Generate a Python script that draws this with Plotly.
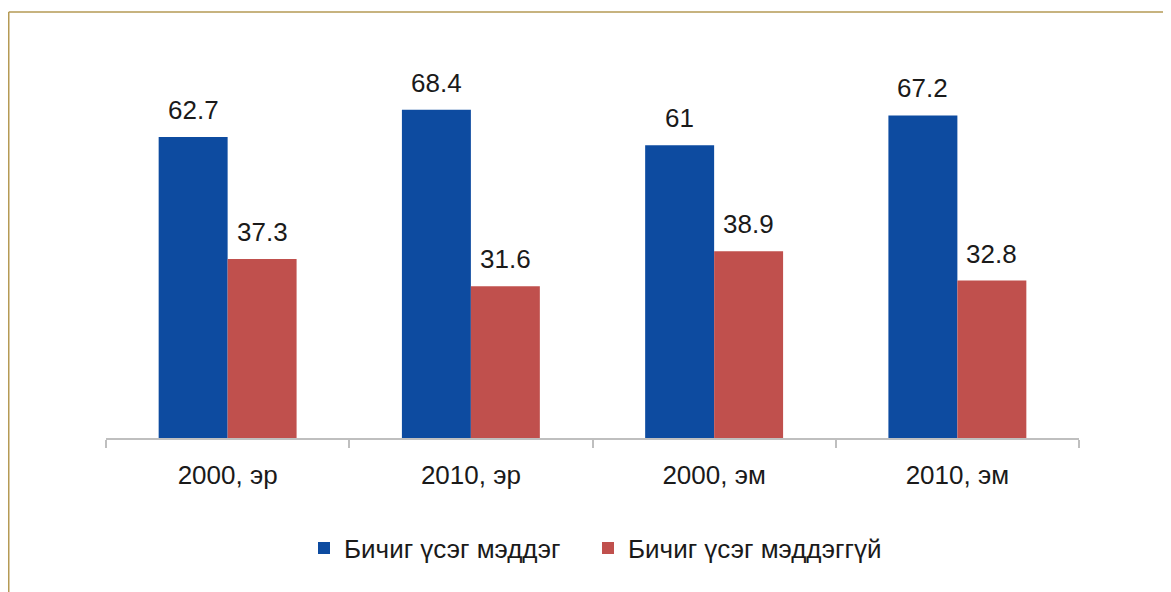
import plotly.graph_objects as go

categories = ["2000, эр", "2010, эр", "2000, эм", "2010, эм"]
literate = [62.7, 68.4, 61, 67.2]
illiterate = [37.3, 31.6, 38.9, 32.8]
series_names = ["Бичиг үсэг мэддэг", "Бичиг үсэг мэддэггүй"]

# page body adds an 8px offset; figure is sized/positioned to compensate
OFF = 8
W, H = 1171 - OFF, 592 - OFF
L, R, T, B = 98, 92, 46, 154
pw, ph = W - L - R, H - T - B

def px_x(x):
    return (x - OFF - L) / pw

def px_y(y):
    return (H - B - (y - OFF)) / ph

font = "Liberation Sans, Arial, sans-serif"
txt = "#1a1a1a"
colors = ["#0D4BA0", "#C0504D"]

fig = go.Figure()
fig.add_bar(x=categories, y=literate, name=series_names[0], marker_color=colors[0],
            marker_line_width=0, legend="legend")
fig.add_bar(x=categories, y=illiterate, name=series_names[1], marker_color=colors[1],
            marker_line_width=0, legend="legend2")

annotations = []
bar_half = 34.5
for vals, shift in ((literate, -bar_half), (illiterate, bar_half)):
    for c, v in zip(categories, vals):
        annotations.append(dict(x=c, y=v, xref="x", yref="y", text=f"{v:g}",
                                showarrow=False, xshift=shift, yshift=10,
                                yanchor="bottom", xanchor="center",
                                font=dict(size=26, color=txt, family=font)))

leg_common = dict(orientation="h", yanchor="middle", y=px_y(548), xanchor="left",
                  font=dict(size=26, color=txt), itemwidth=30,
                  bgcolor="rgba(0,0,0,0)")

fig.update_layout(
    width=W, height=H,
    margin=dict(l=L, r=R, t=T, b=B),
    paper_bgcolor="white", plot_bgcolor="white",
    barmode="group", bargap=0.433, bargroupgap=0,
    font=dict(family=font, size=24, color=txt),
    showlegend=True,
    legend=dict(x=px_x(304), **leg_common),
    legend2=dict(x=px_x(588), **leg_common),
    xaxis=dict(showline=True, linecolor="#BFBFBF", linewidth=1.5,
               ticks="outside", tickson="boundaries", ticklen=8, tickcolor="#BFBFBF",
               tickwidth=1.5, tickfont=dict(size=26, color=txt), ticklabelstandoff=13,
               showgrid=False),
    yaxis=dict(range=[0, 80], visible=False, showgrid=False),
    annotations=annotations,
    shapes=[
        dict(type="line", xref="paper", yref="paper", x0=px_x(8.75), x1=px_x(8.75),
             y0=px_y(12), y1=px_y(700), line=dict(color="#B59A55", width=1.5)),
        dict(type="line", xref="paper", yref="paper", x0=px_x(8.75), x1=px_x(1300),
             y0=px_y(12), y1=px_y(12), line=dict(color="#B59A55", width=1.5)),
    ],
)

fig.write_html("out.html")
